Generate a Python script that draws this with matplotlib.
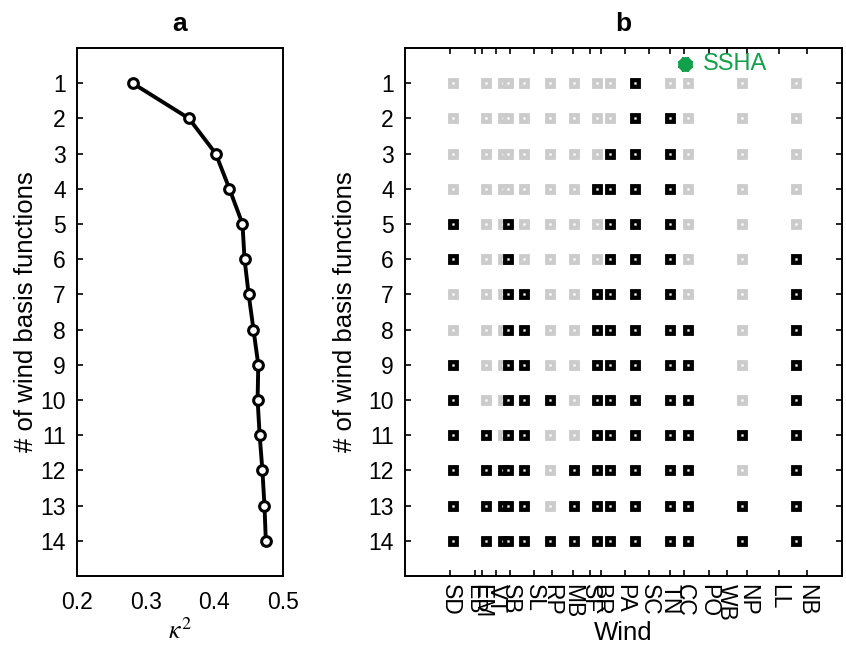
import matplotlib
matplotlib.use("Agg")
import matplotlib.pyplot as plt

plt.rcParams['font.family'] = ['Liberation Sans', 'DejaVu Sans']
plt.rcParams['mathtext.fontset'] = 'stix'

# panel a: skill vs number of wind basis functions
n_basis = list(range(1, 15))
kappa2 = [0.281, 0.363, 0.402, 0.422, 0.441, 0.444, 0.450,
          0.457, 0.464, 0.463, 0.466, 0.470, 0.473, 0.475]

# panel b: wind stations (tick labels) and their positions along the x axis
station_labels = ["SD", "EB", "EM", "VT", "SB", "SL", "RP", "MB", "SF", "BR",
                  "PA", "SC", "TN", "CC", "PO", "WB", "NP", "LL", "NB"]
station_pos = [4.5, 7.0, 7.67, 9.1, 10.5, 12.93, 14.67, 16.77, 18.5, 19.6,
               22.0, 24.43, 26.5, 27.9, 30.4, 32.17, 34.23, 37.4, 40.17]

# candidate basis function columns
cand_pos = [4.77, 8.1, 9.77, 10.33, 11.9, 14.5, 16.9, 19.17, 20.5, 22.97,
            26.5, 28.33, 33.73, 39.07]

# selected columns (1-based) for each number of basis functions
selected = {
    1: [10],
    2: [10, 11],
    3: [9, 10, 11],
    4: [8, 9, 10, 11],
    5: [1, 4, 9, 10, 11],
    6: [1, 4, 9, 10, 11, 14],
    7: [4, 5, 8, 9, 10, 11, 14],
    8: [4, 5, 8, 9, 10, 11, 12, 14],
    9: [1, 4, 5, 8, 9, 10, 11, 12, 14],
    10: [1, 4, 5, 6, 8, 9, 10, 11, 12, 14],
    11: [1, 2, 4, 5, 8, 9, 10, 11, 12, 13, 14],
    12: [1, 2, 3, 4, 5, 7, 8, 9, 10, 11, 12, 14],
    13: [1, 2, 3, 4, 5, 7, 8, 9, 10, 11, 12, 13, 14],
    14: list(range(1, 15)),
}

ssha_pos = (28.0, 0.46)

W, H = 846, 651
fig = plt.figure(figsize=(W / 100, H / 100), dpi=100)

ax_a = fig.add_axes([77 / W, 1 - 576 / H, (283 - 77) / W, (576 - 48) / H])
ax_b = fig.add_axes([405 / W, 1 - 576 / H, (842 - 405) / W, (576 - 48) / H])

tick_fs = 16.5
lab_fs = 18.5
green = "#12a04a"

# ---- panel a
ax_a.plot(kappa2, n_basis, color="black", lw=2.8, marker="o", ms=7,
          mfc="white", mec="black", mew=2.2)
ax_a.set_xlim(0.2, 0.5)
ax_a.set_ylim(15, 0)
ax_a.set_yticks(n_basis)
ax_a.set_xticks([0.2, 0.3, 0.4, 0.5])
ax_a.set_xticklabels(["0.2", "0.3", "0.4", "0.5"])
ax_a.tick_params(axis="y", direction="in", length=4, width=1.2, labelsize=tick_fs, pad=8)
ax_a.tick_params(axis="x", length=0, labelsize=tick_fs, pad=11)
ax_a.set_xlabel(r"$\kappa^2$", fontsize=lab_fs, labelpad=3)
ax_a.set_ylabel("# of wind basis functions", fontsize=lab_fs, labelpad=2)
ax_a.set_title("a", fontsize=19, fontweight="bold", pad=12)

# ---- panel b
for row in n_basis:
    on = selected[row]
    for j, x in enumerate(cand_pos, start=1):
        col = "black" if j in on else "#cbcbcb"
        ax_b.plot(x, row, marker="s", ms=7.2, mfc=col, mec=col, mew=0.6, ls="none")
        ax_b.plot(x, row, marker="s", ms=1.3, mfc="white", mec="white", mew=0.3, ls="none")

ax_b.plot(*ssha_pos, marker=(8, 2, 0), ms=10, mew=4.5, color=green, ls="none")
ax_b.text(ssha_pos[0] + 1.8, ssha_pos[1], "SSHA", color=green,
          fontsize=17, va="center", ha="left")

ax_b.set_xlim(0, 43.7)
ax_b.set_ylim(15, 0)
ax_b.set_yticks(n_basis)
ax_b.set_xticks(station_pos)
ax_b.set_xticklabels(station_labels, rotation=270, ha="center", va="top")
ax_b.tick_params(axis="both", direction="in", length=4, width=1.2, labelsize=tick_fs,
                 top=True, right=True)
ax_b.tick_params(axis="y", pad=8)
ax_b.tick_params(axis="x", pad=6)
ax_b.set_xlabel("Wind", fontsize=lab_fs, labelpad=0)
ax_b.set_ylabel("# of wind basis functions", fontsize=lab_fs, labelpad=8)
ax_b.set_title("b", fontsize=19, fontweight="bold", pad=12)

for ax in (ax_a, ax_b):
    for s in ax.spines.values():
        s.set_linewidth(1.4)

fig.savefig("out.png", dpi=100)
